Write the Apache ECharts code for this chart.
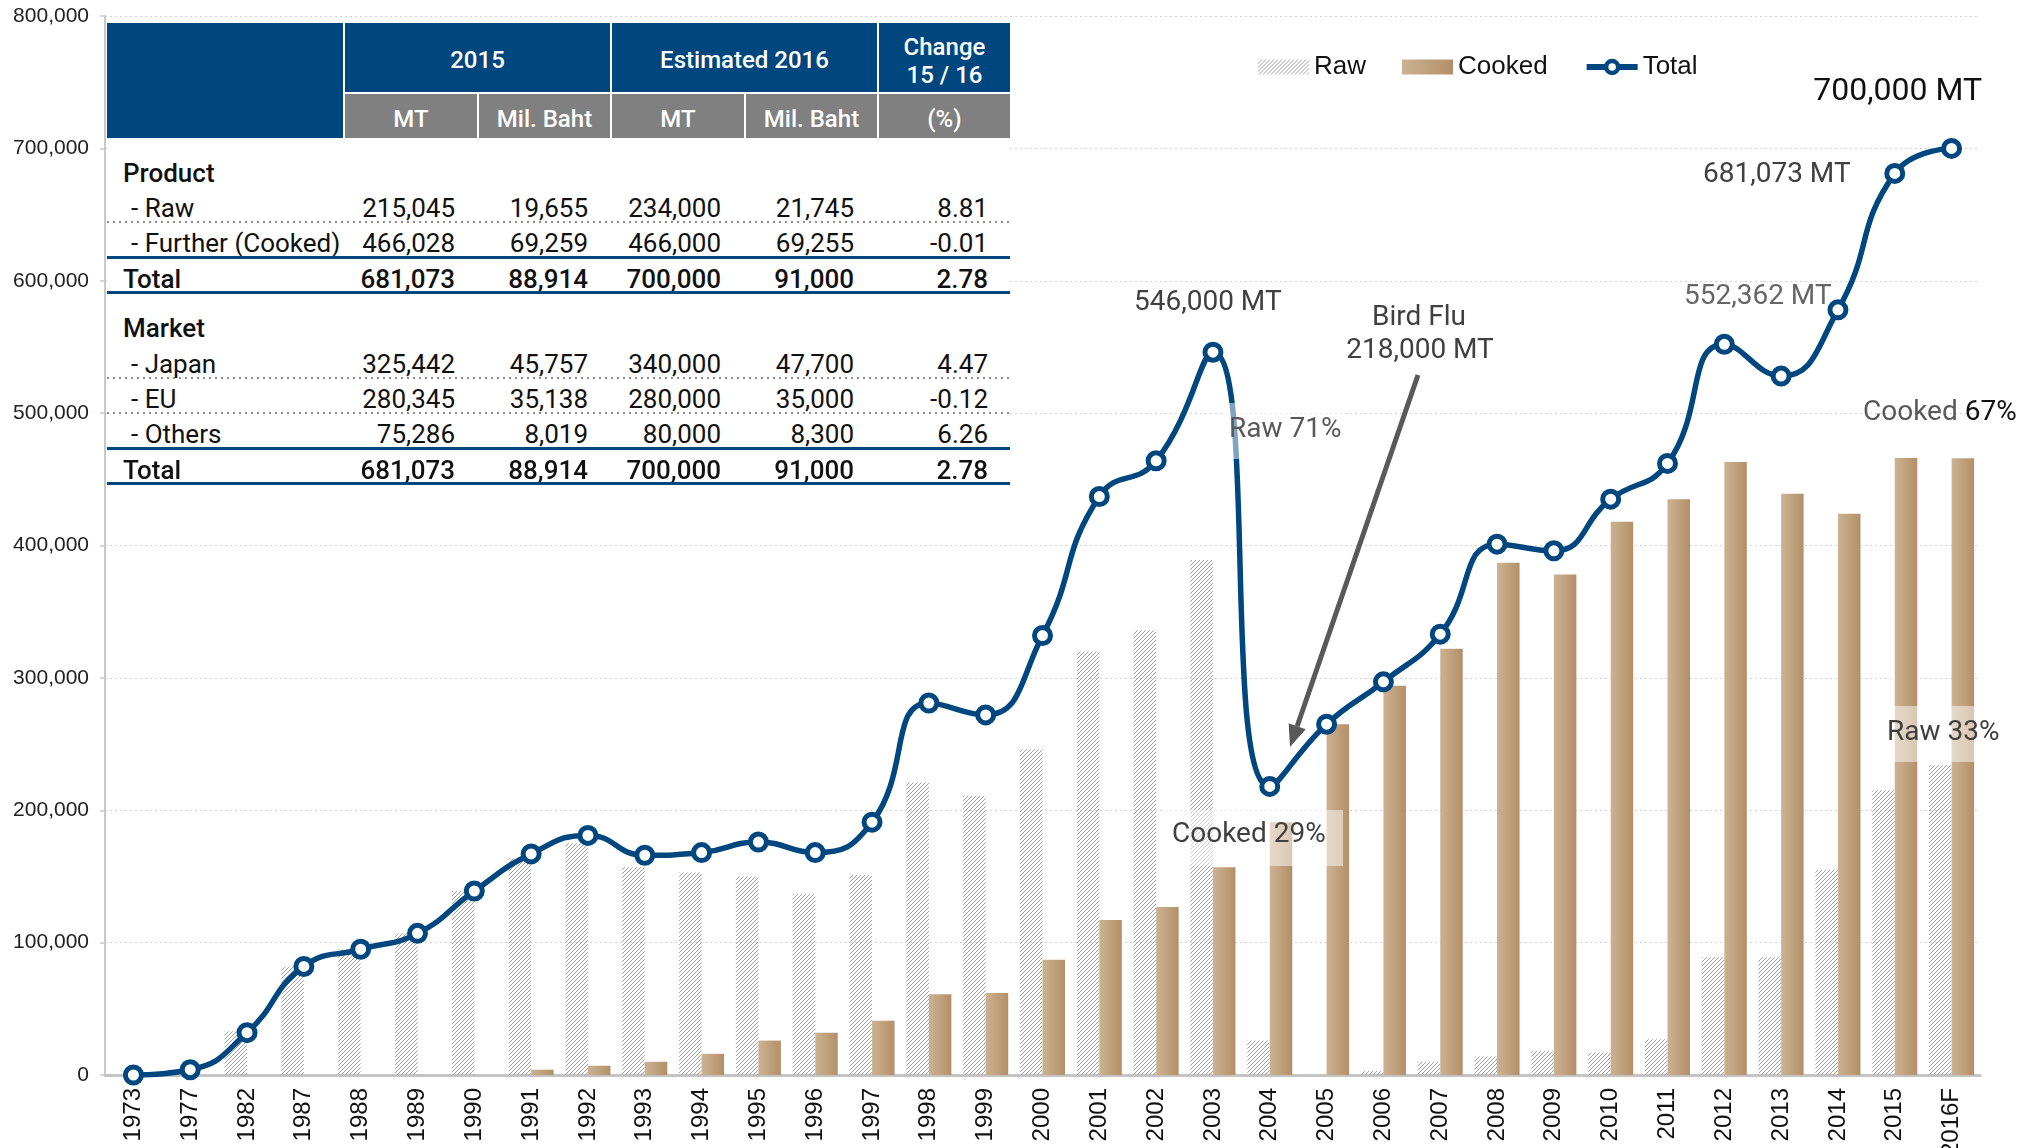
<!DOCTYPE html>
<html>
<head>
<meta charset="utf-8">
<script src="https://cdn.jsdelivr.net/npm/echarts@6/dist/echarts.min.js"></script>
<style>
  html, body { margin: 0; padding: 0; background: #fff; }
  #wrap { position: relative; width: 2028px; height: 1148px; }
  #chart { position: absolute; left: 0; top: 0; width: 2028px; height: 1148px; }
  #table { position: absolute; left: 107px; top: 23px; width: 903px; height: 463px; background: #fff;
           font-family: Roboto, 'Liberation Sans', sans-serif; color: #111; }
  .hd { position: absolute; box-sizing: border-box; color: #fff; font-size: 24px; font-weight: 500;
        display: flex; align-items: center; justify-content: center; text-align: center; line-height: 28px; }
  .blue { background: #00467f; }
  .gray { background: #808080; }
  .cell { position: absolute; height: 36px; line-height: 36px; font-size: 26px; white-space: nowrap; }
  .sep { position: absolute; left: 0; width: 903px; }
</style>
</head>
<body>
<div id="wrap">
  <div id="chart"></div>
  <div id="table"></div>
</div>
<script>
// chart data
const categories = ['1973', '1977', '1982', '1987', '1988', '1989', '1990', '1991', '1992', '1993', '1994',
  '1995', '1996', '1997', '1998', '1999', '2000', '2001', '2002', '2003', '2004', '2005', '2006', '2007',
  '2008', '2009', '2010', '2011', '2012', '2013', '2014', '2015', '2016F'];
const rawValues = [0, 4000, 33000, 82000, 95000, 107000, 139000, 164000, 175000, 157000, 153000,
  150000, 137000, 151000, 221000, 211000, 246000, 320000, 336000, 389000, 26000, 0, 3000, 10000,
  14000, 18000, 17000, 27000, 89000, 89000, 155000, 215045, 234000];
const cookedValues = [0, 0, 0, 0, 0, 0, 0, 4000, 7000, 10000, 16000,
  26000, 32000, 41000, 61000, 62000, 87000, 117000, 127000, 157000, 191000, 265000, 294000, 322000,
  387000, 378000, 418000, 435000, 463000, 439000, 424000, 466028, 466000];
const totalValues = [0, 4000, 32000, 82000, 95000, 107000, 139000, 167000, 181000, 166000, 168000,
  176000, 168000, 191000, 281000, 272000, 332000, 437000, 464000, 546000, 218000, 265000, 297000, 333000,
  401000, 396000, 435000, 462000, 552000, 528000, 578000, 681073, 700000];
const yMax = 800000;
const yStep = 100000;

// table data
const headTop = ['2015', 'Estimated 2016', 'Change<br>15 / 16'];
const headSub = ['MT', 'Mil. Baht', 'MT', 'Mil. Baht', '(%)'];
const productRows = [
  ['- Raw', '215,045', '19,655', '234,000', '21,745', '8.81'],
  ['- Further (Cooked)', '466,028', '69,259', '466,000', '69,255', '-0.01']
];
const productTotal = ['Total', '681,073', '88,914', '700,000', '91,000', '2.78'];
const marketRows = [
  ['- Japan', '325,442', '45,757', '340,000', '47,700', '4.47'],
  ['- EU', '280,345', '35,138', '280,000', '35,000', '-0.12'],
  ['- Others', '75,286', '8,019', '80,000', '8,300', '6.26']
];
const marketTotal = ['Total', '681,073', '88,914', '700,000', '91,000', '2.78'];

const BLUE = '#00467f';

// ---- table ----
const tbl = document.getElementById('table');
function box(cls, x, y, w, h, html, extra) {
  const d = document.createElement('div');
  d.className = cls;
  d.style.left = x + 'px'; d.style.top = y + 'px';
  d.style.width = w + 'px'; d.style.height = h + 'px';
  if (extra) Object.assign(d.style, extra);
  d.innerHTML = html || '';
  tbl.appendChild(d);
  return d;
}
box('hd blue', 0, 0, 236, 115);
box('hd blue', 238, 0, 265, 69, headTop[0], { paddingTop: '4px' });
box('hd blue', 505, 0, 265, 69, headTop[1], { paddingTop: '4px' });
box('hd blue', 772, 0, 131, 69, headTop[2], { paddingTop: '7px' });
const subX = [238, 372, 505, 639, 772];
const subW = [132, 131, 132, 131, 131];
headSub.forEach((t, i) => box('hd gray', subX[i], 71, subW[i], 44, t, { paddingTop: '5px' }));

const numRight = [348, 481, 614, 747, 881];
function dataRow(cells, baseline, strong) {
  const top = baseline - 27;
  const w = strong ? 500 : 400;
  box('cell', strong ? 16 : 24, top, 300, 36, cells[0], { fontWeight: w });
  for (let i = 1; i < cells.length; i++) {
    box('cell', numRight[i - 1] - 160, top, 160, 36, cells[i], { textAlign: 'right', fontWeight: w });
  }
}
function title(t, baseline) {
  box('cell', 16, baseline - 27, 300, 36, t, { fontWeight: 500 });
}
function dotted(y) {
  box('sep', 0, y - 1, 903, 2, '', {
    background: 'repeating-linear-gradient(to right, #8f8f8f 0 2px, transparent 2px 6px)'
  });
}
function solid(y) {
  box('sep', 0, y - 1.5, 903, 3, '', { background: BLUE });
}
title('Product', 159);
dataRow(productRows[0], 194);
dotted(199);
dataRow(productRows[1], 229);
solid(234);
dataRow(productTotal, 265, true);
solid(269);
title('Market', 314);
dataRow(marketRows[0], 350);
dotted(355);
dataRow(marketRows[1], 385);
dotted(390);
dataRow(marketRows[2], 420);
solid(425);
dataRow(marketTotal, 456, true);
solid(460);

// ---- chart ----
function hatchPattern() {
  const c = document.createElement('canvas');
  c.width = 4; c.height = 4;
  const g = c.getContext('2d');
  g.strokeStyle = '#a0a0a0';
  g.lineWidth = 1;
  g.beginPath();
  g.moveTo(-1, 1); g.lineTo(1, -1);
  g.moveTo(-1, 5); g.lineTo(5, -1);
  g.moveTo(3, 5); g.lineTo(5, 3);
  g.stroke();
  return c;
}
const cookedFill = new echarts.graphic.LinearGradient(0, 0, 1, 0, [
  { offset: 0, color: '#ccb293' },
  { offset: 0.5, color: '#c0a17d' },
  { offset: 1, color: '#b28f67' }
]);

function arrow(x1, y1, x2, y2, len, half) {
  const dx = x2 - x1, dy = y2 - y1;
  const L = Math.sqrt(dx * dx + dy * dy);
  const ux = dx / L, uy = dy / L;
  const bx = x2 - ux * len, by = y2 - uy * len;
  return [
    { type: 'line', z: 100, shape: { x1: x1, y1: y1, x2: bx, y2: by },
      style: { stroke: '#595959', lineWidth: 5 } },
    { type: 'polygon', z: 100, shape: { points: [[x2, y2], [bx - uy * half, by + ux * half], [bx + uy * half, by - ux * half]] },
      style: { fill: '#595959' } }
  ];
}
function label(text, x, y, opts) {
  return {
    type: 'text', z: 101,
    style: Object.assign({
      text: text, x: x, y: y,
      font: '28px Roboto, sans-serif',
      fill: '#404040',
      textAlign: 'left', align: 'left',
      textVerticalAlign: 'middle', verticalAlign: 'middle'
    }, opts || {})
  };
}
function veil(x, y, w, h) {
  return { type: 'rect', z: 99, shape: { x: x, y: y, width: w, height: h },
    style: { fill: 'rgba(255,255,255,0.5)' } };
}

const chart = echarts.init(document.getElementById('chart'), null, { renderer: 'canvas' });
chart.setOption({
  animation: false,
  grid: { left: 105, right: 48, top: 16, bottom: 73, containLabel: false, outerBoundsMode: 'none' },
  legend: {
    left: 1253, top: 49,
    itemWidth: 51, itemHeight: 15, itemGap: 36,
    textStyle: { fontFamily: "'Liberation Sans', Arial, sans-serif", fontSize: 26, color: '#111' },
    data: [
      { name: 'Raw', icon: 'rect' },
      { name: 'Cooked', icon: 'rect' },
      { name: 'Total', lineStyle: { width: 6 }, itemStyle: { borderWidth: 4.5 } }
    ]
  },
  xAxis: {
    type: 'category',
    data: categories,
    boundaryGap: true,
    axisLine: { lineStyle: { color: '#c4c4c4', width: 3 } },
    axisTick: { show: false },
    axisLabel: {
      interval: 0, rotate: 90, margin: 13,
      fontFamily: "'Liberation Sans Narrow', 'Arial Narrow', 'Liberation Sans', sans-serif",
      fontSize: 24, color: '#111'
    }
  },
  yAxis: {
    type: 'value', min: 0, max: yMax, interval: yStep,
    axisLine: { show: true, lineStyle: { color: '#c8c8c8', width: 2 } },
    axisTick: { show: true, length: 5, lineStyle: { color: '#c8c8c8', width: 1.5 } },
    axisLabel: {
      margin: 16, fontFamily: "'Liberation Sans', Arial, sans-serif", fontSize: 21, color: '#222',
      formatter: v => v.toLocaleString('en-US')
    },
    splitLine: { show: true, lineStyle: { color: '#d2d2d2', width: 1, type: [2, 3] } }
  },
  series: [
    {
      name: 'Raw', type: 'bar', data: rawValues,
      barWidth: 22.5, barGap: '0%', z: 2,
      itemStyle: { color: { image: hatchPattern(), repeat: 'repeat' } }
    },
    {
      name: 'Cooked', type: 'bar', data: cookedValues,
      barWidth: 22.5, barGap: '0%', z: 2,
      itemStyle: { color: cookedFill }
    },
    {
      name: 'Total', type: 'line', data: totalValues, smooth: 0.5, z: 5,
      symbol: 'circle', symbolSize: 16,
      lineStyle: { color: BLUE, width: 5.5 },
      itemStyle: { color: '#fff', borderColor: BLUE, borderWidth: 5 }
    }
  ],
  graphic: [
    veil(1224, 403, 118, 56),
    veil(1165, 810, 178, 56),
    veil(1880, 706, 126, 56),
    ...arrow(1418, 375, 1290, 747, 22, 9),
    label('700,000 MT', 1982, 92, { font: '32px Roboto, sans-serif', fill: '#111', textAlign: 'right', align: 'right' }),
    label('681,073 MT', 1703, 175),
    label('546,000 MT', 1134, 303),
    label('Bird Flu', 1419, 318, { textAlign: 'center', align: 'center' }),
    label('218,000 MT', 1420, 351, { textAlign: 'center', align: 'center' }),
    label('552,362 MT', 1684, 297, { fill: '#666' }),
    label('Raw 71%', 1229, 430, { fill: '#595959' }),
    label('Cooked 29%', 1172, 835),
    label('Raw 33%', 1887, 733),
    label('{a|Cooked }{b|67%}', 1863, 413, {
      fill: '#595959',
      rich: {
        a: { font: '28px Roboto, sans-serif', fill: '#595959' },
        b: { font: '28px Roboto, sans-serif', fill: '#111' }
      }
    })
  ]
});
</script>
</body>
</html>
